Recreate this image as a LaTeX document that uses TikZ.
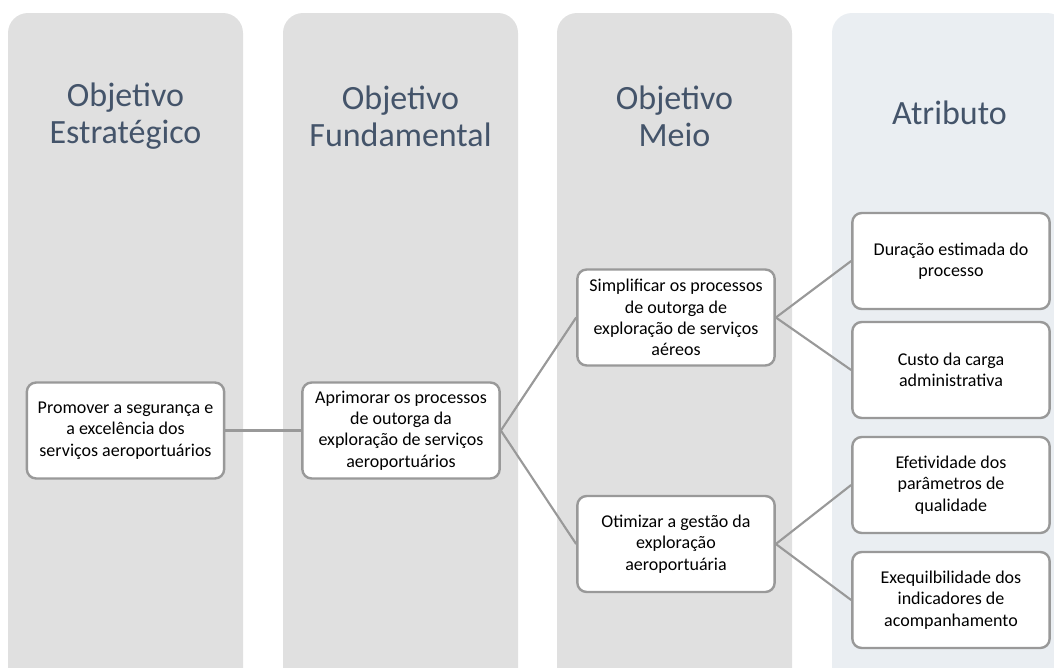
\documentclass[tikz,border=0pt]{standalone}
\usepackage{fontspec}
\setmainfont{Carlito}
\usepackage{xcolor}
\usetikzlibrary{positioning}
\definecolor{headblue}{HTML}{44546A}
\definecolor{colgray}{HTML}{E0E0E0}
\definecolor{colblue}{HTML}{EAEEF2}
\definecolor{edgegray}{HTML}{999999}

\begin{document}
\begin{tikzpicture}[
    x=0.75pt, y=-0.75pt,
    column/.style={fill=colgray, rounded corners=15pt},
    header/.style={align=center, text=headblue, font=\fontsize{25.5}{28}\selectfont},
    box/.style={draw=edgegray, line width=1.8pt, fill=white, rounded corners=7pt, align=center, minimum width=148pt, minimum height=72pt, inner sep=2pt, font=\fontsize{13.5}{16}\selectfont},
    link/.style={draw=edgegray, line width=1.6pt}
]
    \path[use as bounding box, clip] (0,0) rectangle (1054,668);

    % Columns
    \fill[column] (8,13) rectangle (243,690);
    \fill[column] (283,13) rectangle (518,690);
    \fill[column] (557,13) rectangle (792,690);
    \fill[column, fill=colblue] (832,13) rectangle (1067,690);

    % Headers
    \node[header] (hEst) at (125.5,116) {Objetivo\\Estratégico};
    \node[header] (hFund) at (400.5,116) {Objetivo\\Fundamental};
    \node[header] (hMeio) at (674.5,116) {Objetivo\\Meio};
    \node[header] (hAtr) at (949.5,113) {Atributo};

    % Objectives
    \node[box] (prom) at (125.5,430.5) {Promover a segurança e\\a excelência dos\\serviços aeroportuários};
    \node[box] (apri) at (401,430.5) {Aprimorar os processos\\de outorga da\\exploração de serviços\\aeroportuários};
    \node[box] (simp) at (676,317.5) {Simplificar os processos\\de outorga de\\exploração de serviços\\aéreos};
    \node[box] (otim) at (676,544) {Otimizar a gestão da\\exploração\\aeroportuária};

    % Attributes
    \node[box] (dur) at (951,261) {Duração estimada do\\processo};
    \node[box] (cust) at (951,370) {Custo da carga\\administrativa};
    \node[box] (efet) at (951,485) {Efetividade dos\\parâmetros de\\qualidade};
    \node[box] (exeq) at (951,600) {Exequilbilidade dos\\indicadores de\\acompanhamento};

    % Links
    \draw[link] (prom.east) -- (apri.west);
    \draw[link] (apri.east) -- (simp.west);
    \draw[link] (apri.east) -- (otim.west);
    \draw[link] (simp.east) -- (dur.west);
    \draw[link] (simp.east) -- (cust.west);
    \draw[link] (otim.east) -- (efet.west);
    \draw[link] (otim.east) -- (exeq.west);
\end{tikzpicture}
\end{document}
